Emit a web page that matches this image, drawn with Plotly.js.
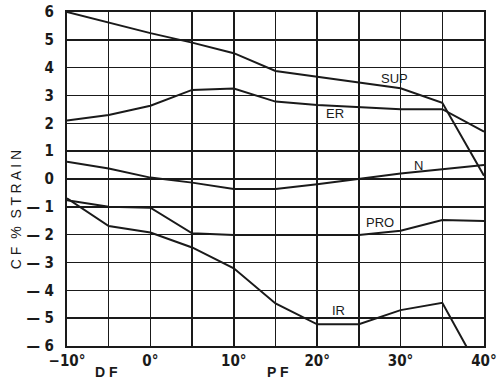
<!DOCTYPE html>
<html>
<head>
<meta charset="utf-8">
<script src="https://cdn.plot.ly/plotly-3.0.1.min.js"></script>
<style>html,body{margin:0;padding:0;background:#fff;}#chart{width:500px;height:384px;}</style>
</head>
<body>
<div id="chart"></div>
<script>
// Angle (degrees): negative = DF, positive = PF
const angles = [-10, -5, 0, 5, 10, 15, 20, 25, 30, 35, 40];
const supValues = [6.0, 5.62, 5.24, 4.9, 4.52, 3.88, 3.68, 3.46, 3.26, 2.74, 0.12];
const erValues  = [2.1, 2.3, 2.63, 3.2, 3.25, 2.78, 2.66, 2.58, 2.51, 2.51, 1.7];
const nValues   = [0.62, 0.38, 0.05, -0.13, -0.36, -0.36, -0.19, 0.0, 0.2, 0.35, 0.5];
const proValues = [-0.76, -1.0, -1.03, -1.95, -2.01, -2.01, -2.01, -2.01, -1.86, -1.47, -1.51];
const irAngles  = [-10, -5, 0, 5, 10, 15, 20, 25, 30, 35, 38.1];
const irValues  = [-0.69, -1.69, -1.92, -2.46, -3.21, -4.47, -5.22, -5.22, -4.71, -4.45, -6.13];
const seriesNames = ["SUP", "ER", "N", "PRO", "IR"];
const labelX = [29.3, 22.1, 32.2, 27.5, 22.5];
const labelY = [3.62, 2.37, 0.5, -1.58, -4.71];
const xTickVals = [-10, -5, 0, 5, 10, 15, 20, 25, 30, 35, 40];
const xTickText = ["−10°", "", "0°", "", "10°", "", "20°", "", "30°", "", "40°"];
const yTickVals = [-6, -5, -4, -3, -2, -1, 0, 1, 2, 3, 4, 5, 6];
const yTickText = ["— 6", "— 5", "— 4", "— 3", "— 2", "— 1", "0", "1", "2", "3", "4", "5", "6"];
const yTitle = "C F  %  S T R A I N";
const dfLabel = "D F";
const pfLabel = "P F";

const lineStyle = {color: "#1a1a1a", width: 2};
const xs = [angles, angles, angles, angles, irAngles];
const ys = [supValues, erValues, nValues, proValues, irValues];
const traces = seriesNames.map((n, i) => ({
  x: xs[i], y: ys[i], type: "scatter", mode: "lines", name: n,
  line: lineStyle, showlegend: false, hoverinfo: "skip"
}));

const tickFont = {family: "Liberation Sans Narrow, DejaVu Sans Condensed, Arial Narrow, sans-serif", size: 15, color: "#1a1a1a", weight: 700};
const labelFont = {family: "Liberation Sans, Arial, sans-serif", size: 13, color: "#1a1a1a"};
const axisLabelFont = {family: "Liberation Sans, Arial, sans-serif", size: 14, color: "#1a1a1a", weight: 700};

const annotations = seriesNames.map((n, i) => ({
  x: labelX[i], y: labelY[i], xref: "x", yref: "y", text: n,
  showarrow: false, font: labelFont
}));
annotations.push({
  x: -0.122, xref: "paper", y: (346 - 210) / 334, yref: "paper", text: yTitle,
  showarrow: false, textangle: -90,
  font: {family: "Liberation Sans, Arial, sans-serif", size: 14, color: "#1a1a1a"},
  xanchor: "center", yanchor: "middle"
});
annotations.push({x: -5.3, xref: "x", y: -0.078, yref: "paper", yanchor: "middle", text: dfLabel, showarrow: false, font: axisLabelFont});
annotations.push({x: 15.3, xref: "x", y: -0.078, yref: "paper", yanchor: "middle", text: pfLabel, showarrow: false, font: axisLabelFont});

const layout = {
  width: 500, height: 384,
  margin: {l: 67, r: 16, t: 12, b: 38},
  paper_bgcolor: "#fff", plot_bgcolor: "#fff",
  xaxis: {
    range: [-10, 40], tickvals: xTickVals, ticktext: xTickText,
    showgrid: true, gridcolor: "#1a1a1a", gridwidth: 1.5,
    zeroline: false, showline: true, linecolor: "#1a1a1a", linewidth: 2, mirror: true,
    ticks: "", tickfont: tickFont, fixedrange: true
  },
  yaxis: {
    range: [-6, 6], tickvals: yTickVals, ticktext: yTickText,
    showgrid: true, gridcolor: "#1a1a1a", gridwidth: 1.5,
    zeroline: false, showline: true, linecolor: "#1a1a1a", linewidth: 2, mirror: true,
    ticks: "", ticklabelstandoff: 8, tickfont: tickFont, fixedrange: true
  },
  annotations: annotations,
  showlegend: false
};

Plotly.newPlot("chart", traces, layout, {staticPlot: true, displayModeBar: false});
</script>
</body>
</html>
